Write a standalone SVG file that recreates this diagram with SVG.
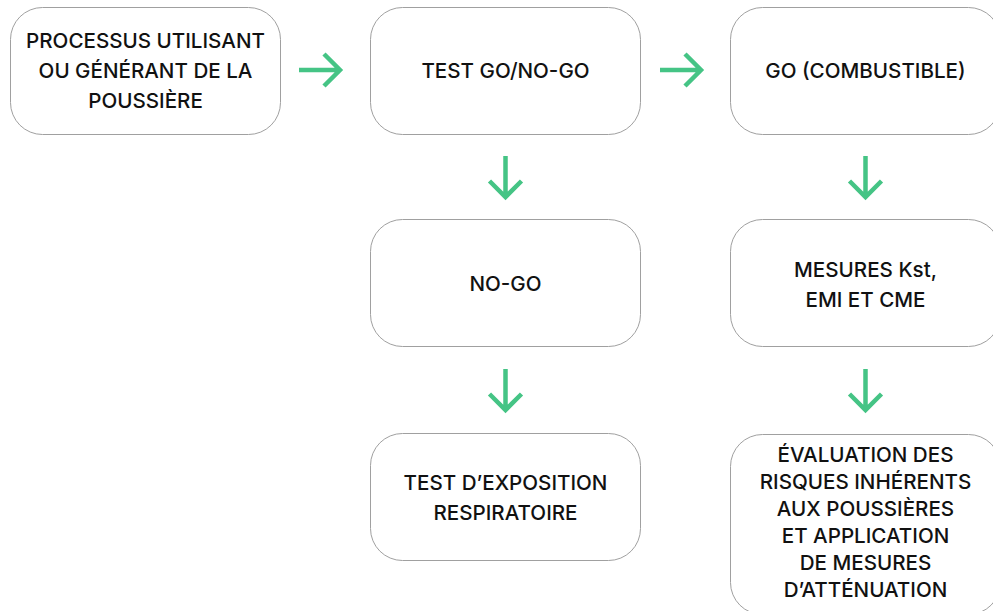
<svg xmlns="http://www.w3.org/2000/svg" width="993" height="611" viewBox="0 0 993 611">
<style>
.box{fill:#fff;stroke:#a0a0a0;stroke-width:1}
.t{font-family:Inter,"Liberation Sans",sans-serif;font-size:20.6px;font-weight:500;fill:#111;text-anchor:middle}
.arr{fill:none;stroke:#45C485;stroke-width:4.5;stroke-linecap:butt;stroke-linejoin:miter}
</style>
<rect width="993" height="611" fill="#fff"/>
<g id="n1"><rect class="box" x="10.5" y="7.5" width="270" height="127" rx="32"/>
<text class="t" x="145.5" y="48">PROCESSUS UTILISANT</text>
<text class="t" x="145.5" y="78">OU GÉNÉRANT DE LA</text>
<text class="t" x="145.5" y="108">POUSSIÈRE</text></g>
<g id="n2"><rect class="box" x="370.5" y="7.5" width="270" height="127" rx="32"/>
<text class="t" x="505.5" y="78">TEST GO/NO-GO</text></g>
<g id="n3"><rect class="box" x="730.5" y="7.5" width="270" height="127" rx="32"/>
<text class="t" x="865.5" y="78">GO (COMBUSTIBLE)</text></g>
<g id="n4"><rect class="box" x="370.5" y="219.5" width="270" height="127" rx="32"/>
<text class="t" x="505.5" y="291">NO-GO</text></g>
<g id="n5"><rect class="box" x="730.5" y="219.5" width="270" height="127" rx="32"/>
<text class="t" x="865.5" y="277">MESURES Kst,</text>
<text class="t" x="865.5" y="307">EMI ET CME</text></g>
<g id="n6"><rect class="box" x="370.5" y="433.5" width="270" height="127" rx="32"/>
<text class="t" x="505.5" y="490">TEST D’EXPOSITION</text>
<text class="t" x="505.5" y="520">RESPIRATOIRE</text></g>
<g id="n7"><rect class="box" x="730.5" y="434.5" width="270" height="180" rx="32"/>
<text class="t" x="865.5" y="462">ÉVALUATION DES</text>
<text class="t" x="865.5" y="489">RISQUES INHÉRENTS</text>
<text class="t" x="865.5" y="516">AUX POUSSIÈRES</text>
<text class="t" x="865.5" y="543">ET APPLICATION</text>
<text class="t" x="865.5" y="570">DE MESURES</text>
<text class="t" x="865.5" y="597">D’ATTÉNUATION</text></g>
<g id="connectors">
<path class="arr" d="M299 70H339M324 54L340 70L324 86"/>
<path class="arr" d="M660 70H700M685 54L701 70L685 86"/>
<path class="arr" d="M505.5 156V196M489.5 181L505.5 197L521.5 181"/>
<path class="arr" d="M505.5 369V409M489.5 394L505.5 410L521.5 394"/>
<path class="arr" d="M865.5 156V196M849.5 181L865.5 197L881.5 181"/>
<path class="arr" d="M865.5 369V409M849.5 394L865.5 410L881.5 394"/>
</g>
</svg>
